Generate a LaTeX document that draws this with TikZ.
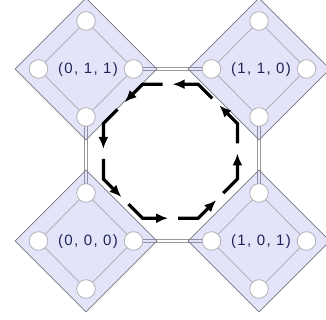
\documentclass[tikz,border=0pt]{standalone}
\usepackage{fontspec}
\newfontfamily\labfont[LetterSpace=9]{Liberation Sans}
\usetikzlibrary{calc,shapes.geometric,arrows.meta}
\definecolor{diafill}{RGB}{90,90,220}
\definecolor{diaedge}{RGB}{120,120,130}
\definecolor{sqedge}{RGB}{170,170,175}
\definecolor{labcol}{RGB}{30,38,88}
\pgfdeclarelayer{back}
\pgfsetlayers{back,main}
\tikzset{
  dia/.style={shape=diamond, aspect=1, minimum width=142pt, minimum height=142pt,
    inner sep=0pt, fill=diafill, fill opacity=0.17, draw=diaedge, draw opacity=1, line width=0.7pt},
  sq/.style={draw=sqedge, line width=0.7pt},
  port/.style={circle, minimum size=18.6pt, inner sep=0pt, fill=white, draw=sqedge, line width=0.7pt},
  lab/.style={text=labcol, font=\labfont\fontsize{15}{18}\selectfont, inner sep=0pt},
  link/.style={draw=gray!80, line width=0.8pt, double=white, double distance=2pt},
  flow/.style={line width=3.2pt, -{Latex[length=12pt,width=10pt]}}
}
\begin{document}
\begin{tikzpicture}[x=1pt,y=-1pt]
\useasboundingbox (0,0) rectangle (326,320);

% four vertex gadgets
\foreach \n/\cx/\cy/\t in {tl/86/69/{(0, 1, 1)}, tr/259/69/{(1, 1, 0)},
                           bl/86/241/{(0, 0, 0)}, br/259/241/{(1, 0, 1)}} {
  \node[dia] (\n) at (\cx,\cy) {};
  \coordinate (\n-t) at (\cx,\cy-48);
  \coordinate (\n-r) at (\cx+47.5,\cy);
  \coordinate (\n-b) at (\cx,\cy+48);
  \coordinate (\n-l) at (\cx-47.5,\cy);
  \draw[sq] (\n-t) -- (\n-r) -- (\n-b) -- (\n-l) -- cycle;
  \node[port] (\n-pt) at (\n-t) {};
  \node[port] (\n-pr) at (\n-r) {};
  \node[port] (\n-pb) at (\n-b) {};
  \node[port] (\n-pl) at (\n-l) {};
  \node[lab] (\n-txt) at (\cx+2,\cy+1) {\t};
}

% double links between the gadgets, below the translucent diamonds
\begin{pgfonlayer}{back}
  \fill[white] (0,0) rectangle (326,320);
  \draw[link] (tl-r) -- (tr-l);
  \draw[link] (bl-r) -- (br-l);
  \draw[link] (tl-b) -- (bl-t);
  \draw[link] (tr-b) -- (br-t);
\end{pgfonlayer}

% octagonal cycle of arrows
\coordinate (oc) at (170.4,151.2);
\coordinate (v1) at ($(oc)+(-27.75,-67)$);
\coordinate (v2) at ($(oc)+(27.75,-67)$);
\coordinate (v3) at ($(oc)+(67,-27.75)$);
\coordinate (v4) at ($(oc)+(67,27.75)$);
\coordinate (v5) at ($(oc)+(27.75,67)$);
\coordinate (v6) at ($(oc)+(-27.75,67)$);
\coordinate (v7) at ($(oc)+(-67,27.75)$);
\coordinate (v8) at ($(oc)+(-67,-27.75)$);
\foreach \a/\b/\c in {v3/v2/v1, v2/v1/v8, v1/v8/v7, v8/v7/v6,
                      v7/v6/v5, v6/v5/v4, v5/v4/v3, v4/v3/v2} {
  \draw[flow] ($(\b)!0.36!(\a)$) -- (\b) -- ($(\b)!0.46!(\c)$);
}
\end{tikzpicture}
\end{document}
